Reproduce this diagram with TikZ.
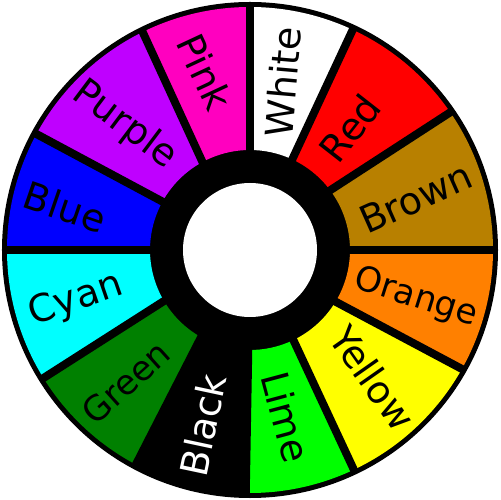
\documentclass[tikz,border=0pt]{standalone}
\usepackage{fontspec}
\setmainfont{DejaVu Sans}
\usepackage{xcolor}
\usetikzlibrary{calc}

\definecolor{wwhite}{HTML}{FFFFFF}
\definecolor{wred}{HTML}{FF0000}
\definecolor{wbrown}{HTML}{B88000}
\definecolor{worange}{HTML}{FF8000}
\definecolor{wyellow}{HTML}{FFFF00}
\definecolor{wlime}{HTML}{00FF00}
\definecolor{wgreen}{HTML}{008000}
\definecolor{wcyan}{HTML}{00FFFF}
\definecolor{wblue}{HTML}{0000FF}
\definecolor{wpurple}{HTML}{BF00FF}
\definecolor{wpink}{HTML}{FF00BF}
\definecolor{wblack}{HTML}{000000}

\begin{document}
\begin{tikzpicture}[
		x=0.02cm,
		y=0.02cm,
		line cap=butt,
		line join=round,
		gap/.style={
			draw=wblack,
			line width=0.16cm
		},
		lbl/.style={
			inner sep=0pt,
			font=\fontsize{21.6}{26}\selectfont
		},
		smalllbl/.style={
			lbl,
			font=\fontsize{19.6}{24}\selectfont
		}
		]
		
		% frame
		\useasboundingbox (-250,-250) rectangle (250,250);
		
		% black disk
		\fill[wblack] (0,0) circle (248);
		
		% coloured segments: lower inner/outer angle, upper inner/outer angle
		\foreach \ai/\ao/\bi/\bo/\col in {
				0/0/37/34.5/wbrown,
				37/34.5/65/65/wred,
				65/65/90/90/wwhite,
				90/90/118.7/116.2/wpink,
				118.7/116.2/151/151.5/wpurple,
				151/151.5/180/180/wblue,
				180/180/210.5/211.8/wcyan,
				210.5/211.8/240.5/242/wgreen,
				269/269/295.8/295.3/wlime,
				295.8/295.3/328.6/330.7/wyellow,
				328.6/330.7/360/360/worange}
		{
			\fill[\col] (\ai:100) -- (\ao:243)
				arc[start angle=\ao, end angle=\bo, radius=243]
				-- (\bi:100)
				arc[start angle=\bi, end angle=\ai, radius=100] -- cycle;
		}
		
		% separating gaps
		\foreach \i/\o in {0/0, 37/34.5, 65/65, 90/90, 118.7/116.2, 151/151.5,
				180/180, 210.5/211.8, 240.5/242, 269/269, 295.8/295.3, 328.6/330.7}
		{
			\draw[gap] (\i:92) -- (\o:245);
		}
		
		% hole
		\fill[wwhite] (0,0) circle (67);
		
		% labels
		\node[lbl, rotate=85]       (white)  at (33,168)    {White};
		\node[lbl, rotate=52]       (red)    at (100,122)   {Red};
		\node[lbl, rotate=24]       (brown)  at (166,52)    {Brown};
		\node[smalllbl, rotate=-17.5] (orange) at (166,-48) {Orange};
		\node[lbl, rotate=-55]      (yellow) at (123,-128)  {Yellow};
		\node[lbl, rotate=-75]      (lime)   at (36,-167)   {Lime};
		\node[lbl, rotate=78, text=wwhite] (blk) at (-47,-175) {Black};
		\node[smalllbl, rotate=42]  (green)  at (-124,-132) {Green};
		\node[lbl, rotate=19]       (cyan)   at (-174,-50)  {Cyan};
		\node[lbl, rotate=-19]      (blue)   at (-185,43)   {Blue};
		\node[lbl, rotate=-37]      (purple) at (-125,125)  {Purple};
		\node[lbl, rotate=-65]      (pink)   at (-45,178)   {Pink};
\end{tikzpicture}
\end{document}
